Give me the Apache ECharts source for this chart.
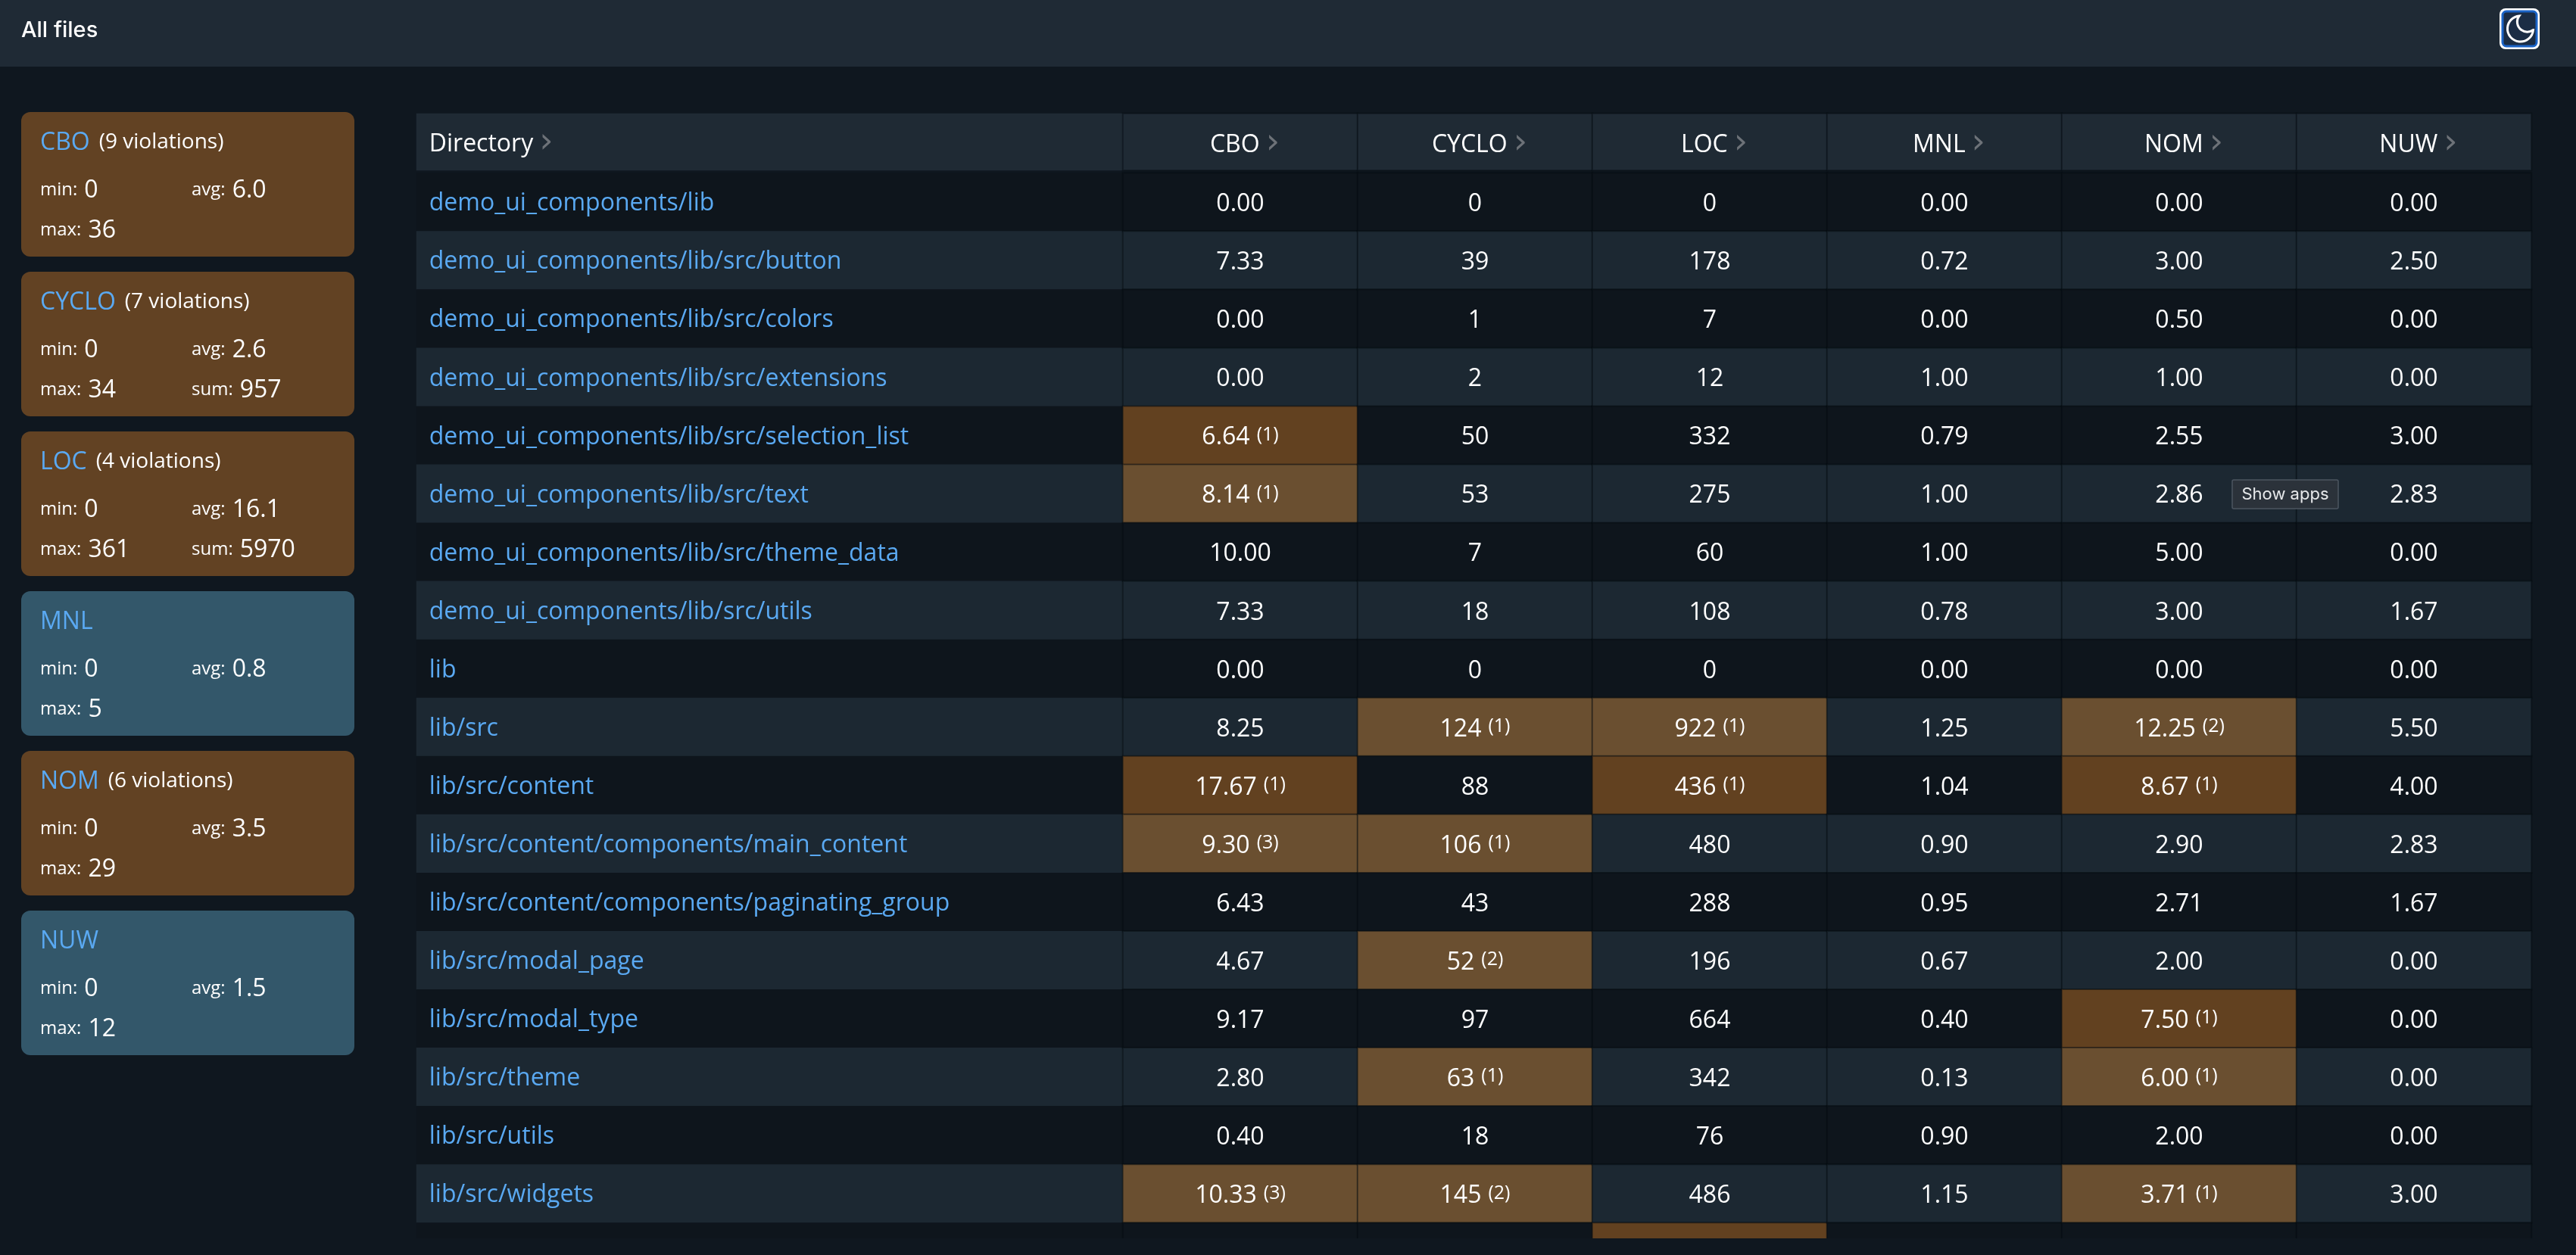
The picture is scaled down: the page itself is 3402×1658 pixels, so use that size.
<!DOCTYPE html>
<html lang="en">
<head>
	<meta charset="UTF-8">
	<title>All files</title>
	<style type="text/css">
	html, body {
		margin: 0;
		padding: 0;
		background: #0f171f;
	}
	.chart {
		width: 3402px;
		height: 1636px;
	}
</style>
</head>
<body>
	<div class="chart"></div>

	<script type="text/javascript" src="https://cdn.jsdelivr.net/npm/echarts@6/dist/echarts.min.js"></script>
	<script type="text/javascript">

		// table data
		var directories = [
			"demo_ui_components/lib",
			"demo_ui_components/lib/src/button",
			"demo_ui_components/lib/src/colors",
			"demo_ui_components/lib/src/extensions",
			"demo_ui_components/lib/src/selection_list",
			"demo_ui_components/lib/src/text",
			"demo_ui_components/lib/src/theme_data",
			"demo_ui_components/lib/src/utils",
			"lib",
			"lib/src",
			"lib/src/content",
			"lib/src/content/components/main_content",
			"lib/src/content/components/paginating_group",
			"lib/src/modal_page",
			"lib/src/modal_type",
			"lib/src/theme",
			"lib/src/utils",
			"lib/src/widgets"
		];
		var metrics = ["CBO", "CYCLO", "LOC", "MNL", "NOM", "NUW"];
		var metricDecimals = [2, 0, 0, 2, 2, 2];

		var cboValues = [0, 7.33, 0, 0, 6.64, 8.14, 10, 7.33, 0, 8.25, 17.67, 9.30, 6.43, 4.67, 9.17, 2.80, 0.40, 10.33];
		var cycloValues = [0, 39, 1, 2, 50, 53, 7, 18, 0, 124, 88, 106, 43, 52, 97, 63, 18, 145];
		var locValues = [0, 178, 7, 12, 332, 275, 60, 108, 0, 922, 436, 480, 288, 196, 664, 342, 76, 486];
		var mnlValues = [0, 0.72, 0, 1, 0.79, 1, 1, 0.78, 0, 1.25, 1.04, 0.90, 0.95, 0.67, 0.40, 0.13, 0.90, 1.15];
		var nomValues = [0, 3, 0.5, 1, 2.55, 2.86, 5, 3, 0, 12.25, 8.67, 2.90, 2.71, 2, 7.5, 6, 2, 3.71];
		var nuwValues = [0, 2.5, 0, 0, 3, 2.83, 0, 1.67, 0, 5.5, 4, 2.83, 1.67, 0, 0, 0, 0, 3];

		// violations per cell, one extra row at the end is the row cut off by the scroll area
		var cboViolations = [0, 0, 0, 0, 1, 1, 0, 0, 0, 0, 1, 3, 0, 0, 0, 0, 0, 3, 0];
		var cycloViolations = [0, 0, 0, 0, 0, 0, 0, 0, 0, 1, 0, 1, 0, 2, 0, 1, 0, 2, 0];
		var locViolations = [0, 0, 0, 0, 0, 0, 0, 0, 0, 1, 1, 0, 0, 0, 0, 0, 0, 0, 1];
		var mnlViolations = [0, 0, 0, 0, 0, 0, 0, 0, 0, 0, 0, 0, 0, 0, 0, 0, 0, 0, 0];
		var nomViolations = [0, 0, 0, 0, 0, 0, 0, 0, 0, 2, 1, 0, 0, 0, 1, 1, 0, 1, 0];
		var nuwViolations = [0, 0, 0, 0, 0, 0, 0, 0, 0, 0, 0, 0, 0, 0, 0, 0, 0, 0, 0];

		// summary cards
		var cardViolations = [9, 7, 4, 0, 6, 0];
		var cardMin = [0, 0, 0, 0, 0, 0];
		var cardAvg = ["6.0", "2.6", "16.1", "0.8", "3.5", "1.5"];
		var cardMax = [36, 34, 361, 5, 29, 12];
		var cardSum = [null, 957, 5970, null, null, null];

		var metricValues = [cboValues, cycloValues, locValues, mnlValues, nomValues, nuwValues];
		var metricViolations = [cboViolations, cycloViolations, locViolations, mnlViolations, nomViolations, nuwViolations];

		var FONT = "'Open Sans'";
		var C_DARK = "#0e151c";
		var C_LIGHT = "#1c2832";
		var C_HEAD = "#1f2a34";
		var C_ORANGE_DARK = "#624120";
		var C_ORANGE_LIGHT = "#6a4f30";
		var C_CARD_ORANGE = "#624223";
		var C_CARD_BLUE = "#33576a";
		var C_LINK = "#5aa9f2";
		var C_LINE = "rgba(5,10,15,0.45)";

		var rowNames = directories.concat([""]);
		var chart = echarts.init(document.getElementsByClassName("chart")[0]);

		// one grid with hidden category axes
		function hiddenAxes (index, xData, yData) {
			return {
				x: {type: "category", gridIndex: index, data: xData, show: false},
				y: {type: "category", gridIndex: index, data: yData, show: false, inverse: true}
			};
		}

		var headRich = {
			t: {color: "#ffffff", fontFamily: FONT, fontSize: 32},
			c: {color: "#6d7278", fontFamily: "'DejaVu Sans'", fontSize: 46, padding: [0, 0, 3, 8]}
		};
		var cellRich = {
			v: {color: "#ffffff", fontFamily: FONT, fontSize: 32},
			s: {color: "#ffffff", fontFamily: FONT, fontSize: 25, verticalAlign: "top", padding: [0, 0, 0, 9]}
		};

		// the table runs past the bottom of the page, so grids may leave the canvas
		var grids = [
			{left: 550, top: 150, width: 933, height: 75},
			{left: 1483, top: 150, width: 1860, height: 75},
			{left: 550, top: 228.5, width: 933, height: 1464},
			{left: 1483, top: 228.5, width: 1860, height: 1464},
			{left: 28, top: 138, width: 440, height: 1266}
		].map(function (g) {
			g.outerBoundsMode = "none";
			return g;
		});
		var axes = [
			hiddenAxes(0, ["Directory"], ["head"]),
			hiddenAxes(1, metrics, ["head"]),
			hiddenAxes(2, ["Directory"], rowNames),
			hiddenAxes(3, metrics, rowNames),
			hiddenAxes(4, ["card"], metrics)
		];

		function rowColor (row, violations) {
			if (violations > 0) {
				return row % 2 ? C_ORANGE_LIGHT : C_ORANGE_DARK;
			}
			return row % 2 ? C_LIGHT : C_DARK;
		}

		function metricCells () {
			var arr = [];
			metrics.forEach(function (m, col) {
				rowNames.forEach(function (name, row) {
					var v = metricViolations[col][row];
					arr.push({value: [col, row, v], itemStyle: {color: rowColor(row, v)}});
				});
			});
			return arr;
		}

		function dirCells () {
			return rowNames.map(function (name, row) {
				return {value: [0, row, 0], itemStyle: {color: rowColor(row, 0)}};
			});
		}

		// text of a metric cell, the violation count is shown as superscript
		function metricLabel (p) {
			var col = p.value[0], row = p.value[1];
			if (row >= directories.length) {
				return "";
			}
			var text = "{v|" + metricValues[col][row].toFixed(metricDecimals[col]) + "}";
			if (p.value[2] > 0) {
				text += "{s|(" + p.value[2] + ")}";
			}
			return text;
		}

		function renderCard (params, api) {
			var i = api.value(1);
			var pos = api.coord([0, i]);
			var size = api.size([1, 1]);
			var left = pos[0] - size[0] / 2;
			var top = pos[1] - 95.5;
			var title = "{m|" + metrics[i] + "}";
			if (cardViolations[i] > 0) {
				title += "{n|(" + cardViolations[i] + " violations)}";
			}
			var rich = {
				m: {fill: C_LINK, fontFamily: FONT, fontSize: 32},
				n: {fill: "#ffffff", fontFamily: FONT, fontSize: 28, padding: [0, 0, 1, 12]},
				l: {fill: "#ffffff", fontFamily: FONT, fontSize: 24, padding: [0, 9, 2, 0]},
				v: {fill: "#ffffff", fontFamily: FONT, fontSize: 32}
			};
			function stat (label, value, x, y) {
				return {
					type: "text",
					style: {
						text: "{l|" + label + ":}{v|" + value + "}",
						rich: rich,
						x: left + x,
						y: top + y,
						verticalAlign: "middle"
					}
				};
			}
			var children = [
				{
					type: "rect",
					shape: {x: left, y: top, width: size[0], height: 191, r: 12},
					style: {fill: cardViolations[i] > 0 ? C_CARD_ORANGE : C_CARD_BLUE}
				},
				{
					type: "text",
					style: {text: title, rich: rich, x: left + 25, y: top + 41, verticalAlign: "middle"}
				},
				stat("min", cardMin[i], 25, 104),
				stat("avg", cardAvg[i], 225, 104),
				stat("max", cardMax[i], 25, 157)
			];
			if (cardSum[i] !== null) {
				children.push(stat("sum", cardSum[i], 225, 157));
			}
			return {type: "group", children: children};
		}

		// moon icon of the theme button
		function renderMoon () {
			return {
				type: "path",
				shape: {
					pathData: "M21 12.79A9 9 0 1 1 11.21 3 7 7 0 0 0 21 12.79z",
					x: 3311, y: 21, width: 35, height: 34
				},
				style: {fill: "none", stroke: "#ffffff", lineWidth: 3}
			};
		}

		var lineStyle = {borderColor: C_LINE, borderWidth: 2};

		var option = {
			animation: false,
			backgroundColor: "#0f171f",
			grid: grids,
			xAxis: axes.map(function (a) { return a.x; }),
			yAxis: axes.map(function (a) { return a.y; }),
			series: [
				{
					type: "heatmap",
					xAxisIndex: 0,
					yAxisIndex: 0,
					data: [[0, 0, 0]],
					silent: true,
					itemStyle: {color: C_HEAD},
					label: {
						show: true,
						position: [17, 41],
						align: "left",
						verticalAlign: "middle",
						formatter: "{t|Directory}{c|›}",
						rich: headRich
					}
				},
				{
					type: "heatmap",
					xAxisIndex: 1,
					yAxisIndex: 1,
					data: metrics.map(function (m, i) { return [i, 0, 0]; }),
					silent: true,
					itemStyle: Object.assign({color: C_HEAD}, lineStyle),
					label: {
						show: true,
						offset: [6, 4],
						formatter: function (p) {
							return "{t|" + metrics[p.value[0]] + "}{c|›}";
						},
						rich: headRich
					}
				},
				{
					type: "heatmap",
					xAxisIndex: 2,
					yAxisIndex: 2,
					data: dirCells(),
					silent: true,
					label: {
						show: true,
						position: [17, 41],
						align: "left",
						verticalAlign: "middle",
						color: C_LINK,
						fontFamily: FONT,
						fontSize: 32,
						formatter: function (p) {
							return rowNames[p.value[1]];
						}
					}
				},
				{
					type: "heatmap",
					xAxisIndex: 3,
					yAxisIndex: 3,
					data: metricCells(),
					silent: true,
					itemStyle: lineStyle,
					label: {
						show: true,
						offset: [0, 3],
						formatter: metricLabel,
						rich: cellRich
					}
				},
				{
					type: "custom",
					xAxisIndex: 4,
					yAxisIndex: 4,
					silent: true,
					clip: false,
					renderItem: renderCard,
					data: metrics.map(function (m, i) { return [0, i]; })
				},
				{
					type: "custom",
					coordinateSystem: "none",
					silent: true,
					z: 30,
					renderItem: renderMoon,
					data: [[0]]
				}
			],
			graphic: [
				// top bar
				{type: "rect", z: -1, shape: {x: 0, y: 0, width: 3402, height: 88}, style: {fill: "#1f2a35"}},
				{
					type: "text", z: 10, x: 28, y: 40,
					style: {text: "All files", fill: "#ffffff", font: "500 29px Inter", verticalAlign: "middle"}
				},
				// theme button
				{
					type: "rect", z: 10,
					shape: {x: 3301, y: 11, width: 53, height: 54, r: 8},
					style: {fill: "#ffffff"}
				},
				{
					type: "rect", z: 11,
					shape: {x: 3305, y: 15, width: 45, height: 46, r: 5},
					style: {fill: "#1b2d45", stroke: "#1a63c6", lineWidth: 3}
				},
				// hover tooltip over the NOM column
				{
					type: "rect", z: 20,
					shape: {x: 2948, y: 634, width: 140, height: 38, r: 2},
					style: {fill: "#2b323a", stroke: "#4c5560", lineWidth: 1.5}
				},
				{
					type: "text", z: 21, x: 3018, y: 653,
					style: {text: "Show apps", fill: "#e6e8ea", font: "22px Inter", align: "center", verticalAlign: "middle"}
				}
			]
		};

		chart.setOption(option);

	</script>
</body>
</html>
